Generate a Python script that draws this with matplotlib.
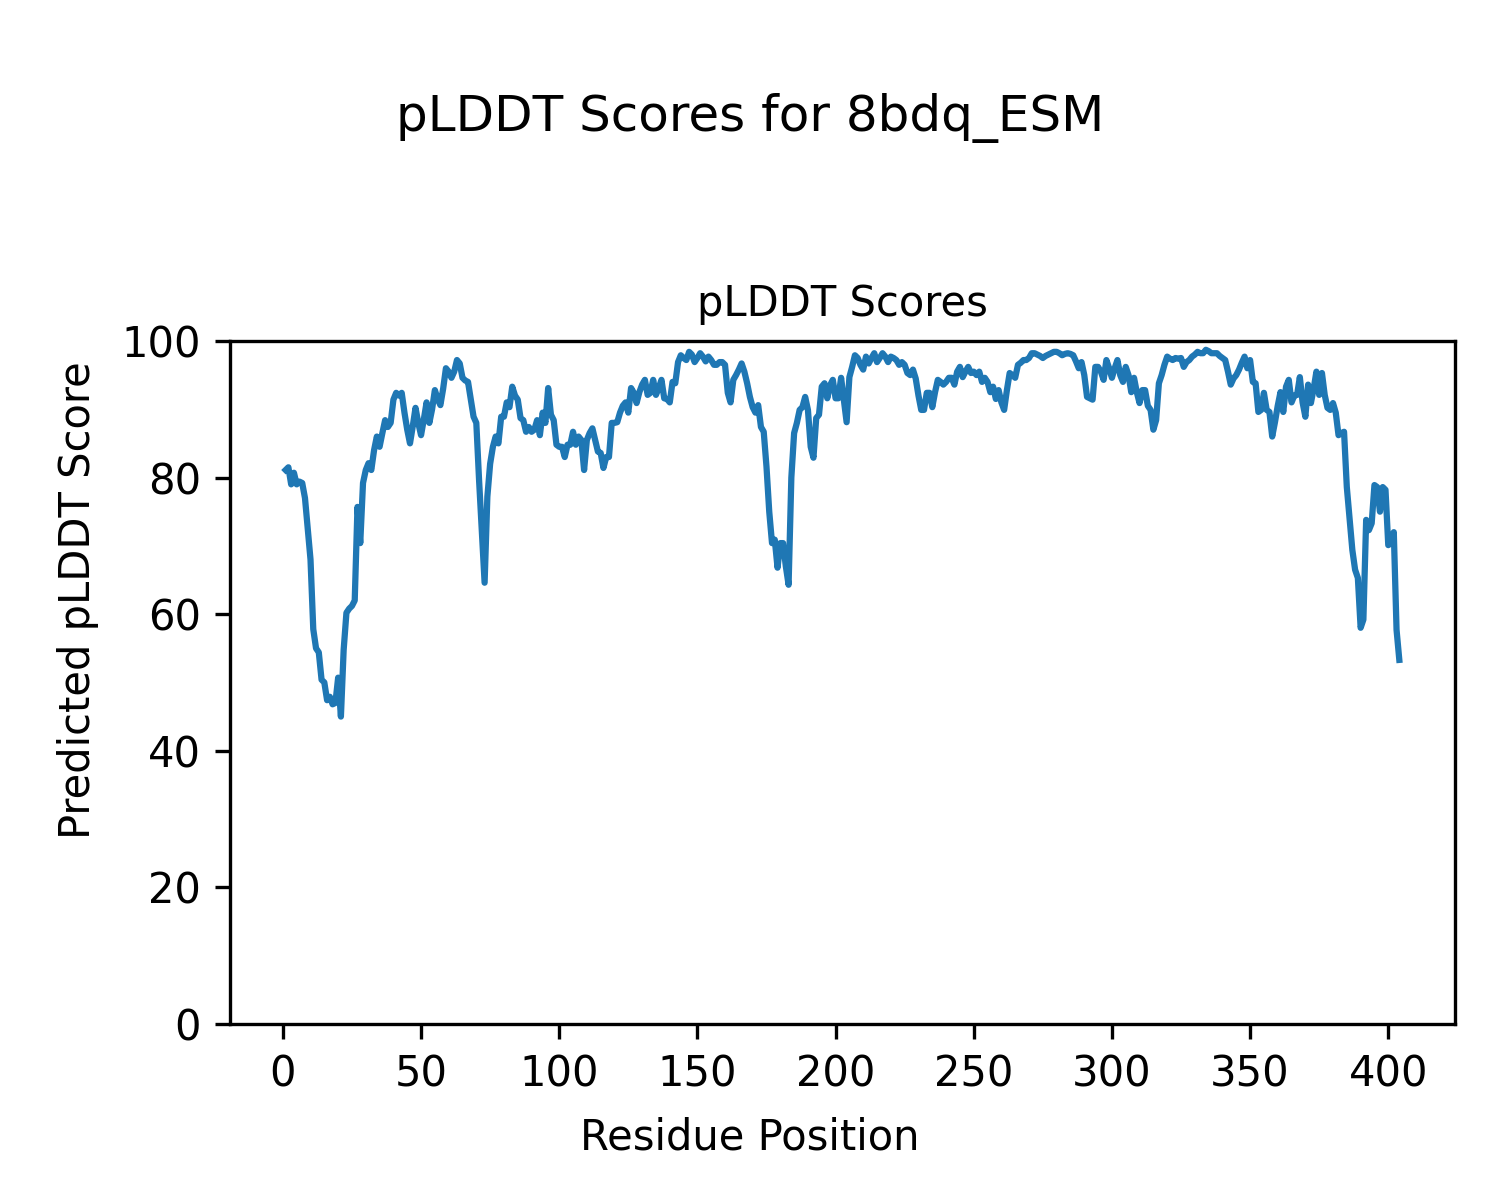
import numpy as np
import matplotlib
matplotlib.use("Agg")
import matplotlib.pyplot as plt

# pLDDT per residue, residues 1..404
plddt = [
    81.1, 81.5, 79.0, 80.7, 79.0, 79.4, 79.2, 77.0, 72.5,         # 1-9
    68.0, 57.8, 55.0, 54.4, 50.4, 50.0, 47.4, 47.9, 46.8, 47.0,   # 10-19
    50.7, 45.0, 54.8, 60.2, 60.8, 61.2, 62.0, 75.7, 70.4, 79.2,   # 20-29
    81.1, 82.1, 81.1, 84.0, 86.0, 84.5, 86.5, 88.4, 87.4, 88.0,   # 30-39
    91.4, 92.4, 92.0, 92.4, 89.5, 87.0, 85.0, 87.5, 90.2, 88.0,   # 40-49
    86.2, 88.5, 91.0, 88.0, 90.0, 92.8, 91.5, 90.6, 93.0, 96.0,   # 50-59
    95.5, 94.6, 95.5, 97.2, 96.7, 94.6, 94.2, 94.0, 91.5, 88.9,   # 60-69
    88.0, 79.6, 72.0, 64.6, 77.2, 82.0, 84.5, 86.0, 85.0, 88.9,   # 70-79
    88.9, 91.0, 90.3, 93.3, 92.0, 91.4, 88.7, 88.4, 86.7, 87.4,   # 80-89
    86.7, 87.0, 88.4, 86.2, 89.5, 88.0, 93.1, 89.2, 88.4, 84.8,   # 90-99
    84.5, 84.5, 83.0, 84.8, 84.8, 86.7, 84.8, 86.0, 85.5, 81.1,   # 100-109
    85.5, 86.5, 87.2, 85.5, 83.8, 83.6, 81.4, 83.0, 83.0, 88.0,   # 110-119
    88.0, 88.1, 89.5, 90.5, 91.0, 89.5, 93.1, 92.4, 90.9, 92.5,   # 120-129
    93.6, 94.3, 92.1, 92.4, 94.3, 92.1, 93.1, 94.3, 91.6, 91.5,   # 130-139
    91.0, 94.0, 93.8, 96.9, 97.9, 97.5, 97.2, 98.4, 98.0, 96.9,   # 140-149
    97.5, 98.2, 97.7, 97.0, 97.7, 97.2, 96.5, 96.5, 96.9, 96.9,   # 150-159
    96.5, 92.4, 91.0, 94.3, 95.0, 95.8, 96.7, 95.5, 93.8, 91.8,   # 160-169
    90.3, 89.5, 90.6, 87.4, 86.7, 81.6, 75.0, 70.4, 70.9, 66.8,   # 170-179
    70.4, 70.4, 67.0, 64.3, 80.0, 86.5, 88.0, 89.9, 90.3, 91.8,   # 180-189
    89.9, 84.5, 82.9, 88.7, 89.2, 93.3, 93.8, 91.6, 93.5, 94.3,   # 190-199
    91.6, 91.6, 94.6, 91.4, 88.1, 94.7, 96.2, 97.9, 97.5, 96.5,   # 200-209
    95.8, 97.7, 96.7, 97.5, 98.2, 96.9, 97.5, 98.2, 97.7, 96.9,   # 210-219
    97.7, 97.5, 97.2, 96.5, 96.9, 96.5, 95.3, 95.0, 95.8, 94.5,   # 220-229
    92.0, 89.9, 89.9, 92.4, 92.4, 90.3, 92.5, 94.3, 94.0, 93.6,   # 230-239
    94.0, 94.6, 94.6, 93.6, 95.5, 96.2, 94.7, 95.5, 96.2, 95.3,   # 240-249
    95.5, 95.0, 95.5, 94.0, 94.6, 94.0, 92.5, 93.3, 91.5, 92.8,   # 250-259
    91.0, 89.9, 92.8, 95.3, 95.0, 94.6, 96.5, 96.8, 97.2, 97.2,   # 260-269
    97.5, 98.2, 98.2, 98.0, 97.8, 97.5, 97.8, 98.0, 98.2, 98.4,   # 270-279
    98.4, 98.2, 97.9, 98.1, 98.2, 98.1, 97.9, 97.0, 96.0, 96.9,   # 280-289
    95.0, 91.8, 91.6, 91.4, 96.2, 96.2, 95.5, 94.3, 97.2, 96.0,   # 290-299
    94.6, 96.0, 97.2, 95.0, 94.0, 96.2, 95.0, 92.5, 94.6, 92.5,   # 300-309
    90.9, 92.8, 92.8, 90.5, 89.9, 87.0, 88.4, 93.8, 95.0, 96.5,   # 310-319
    97.7, 97.4, 97.2, 97.5, 97.4, 97.5, 96.2, 96.9, 97.2, 97.7,   # 320-329
    98.0, 98.4, 98.2, 98.2, 98.7, 98.5, 98.2, 98.2, 98.2, 97.8,   # 330-339
    97.5, 97.2, 95.5, 93.6, 94.5, 95.0, 95.8, 96.8, 97.7, 96.0,   # 340-349
    97.2, 94.0, 93.8, 89.6, 89.9, 92.4, 89.9, 89.6, 86.0, 88.1,   # 350-359
    90.5, 92.5, 89.6, 93.3, 94.3, 91.0, 92.0, 92.1, 94.7, 91.0,   # 360-369
    88.9, 93.6, 90.9, 93.0, 95.5, 92.1, 95.3, 92.1, 90.2, 89.9,   # 370-379
    90.9, 89.5, 86.2, 86.5, 86.7, 78.6, 74.0, 69.4, 66.5, 65.3,   # 380-389
    58.0, 59.2, 73.8, 72.3, 73.3, 78.9, 78.6, 75.0, 78.6, 78.2,   # 390-399
    70.1, 70.4, 72.0, 57.7, 53.3,                                 # 400-404
]
residues = np.arange(1, len(plddt) + 1)

fig = plt.figure(figsize=(5, 4), dpi=300)
ax = fig.add_axes([0.1533, 0.1467, 0.8167, 0.5692])

ax.plot(residues, plddt, color="#1f77b4", linewidth=1.5)
ax.set_ylim(0, 100)
ax.set_title("pLDDT Scores", fontsize=10)

fig.suptitle("pLDDT Scores for 8bdq_ESM", fontsize=12, y=0.902, va="center")
fig.supxlabel("Residue Position", fontsize=10, y=0.052, va="center")
fig.supylabel("Predicted pLDDT Score", fontsize=10, x=0.052, ha="center")

fig.savefig("out.png", dpi=300)
